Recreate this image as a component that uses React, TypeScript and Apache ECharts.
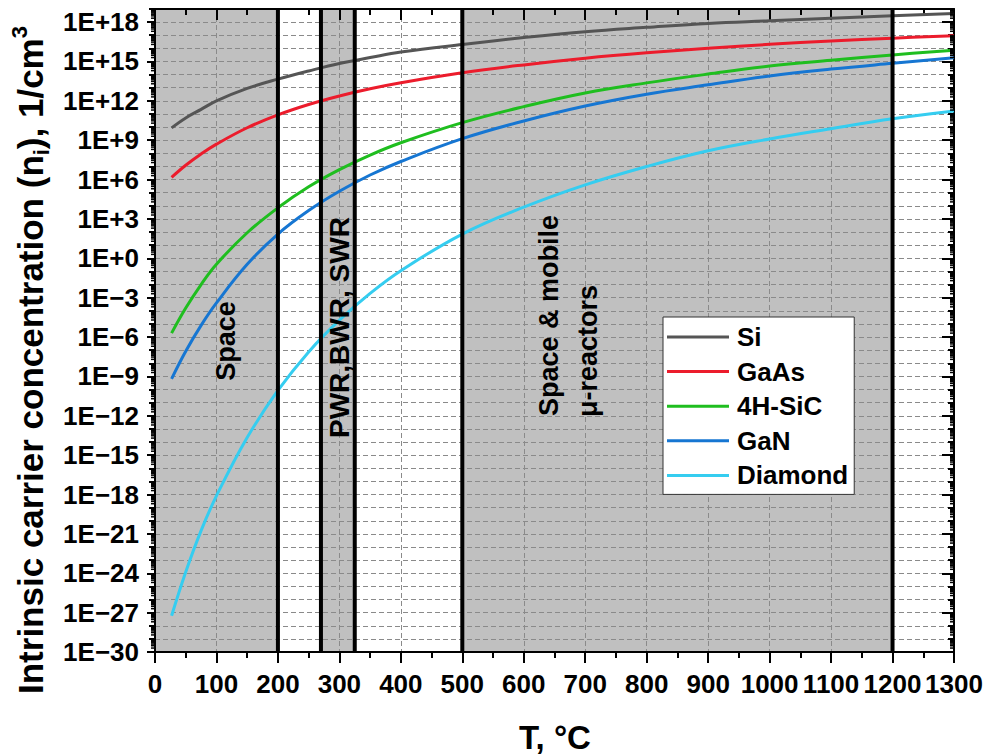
import React, { useEffect, useRef } from "react";
import * as echarts from "echarts";

// Temperature grid, °C
const temperatures = [27, 50, 75, 100, 150, 200, 250, 300, 350, 400, 500, 600, 700, 800, 900, 1000, 1100, 1200, 1300];

// log10 of the intrinsic carrier concentration n_i (1/cm^3) at each temperature
const siLog = [9.94, 10.7, 11.35, 12.0, 12.95, 13.66, 14.28, 14.85, 15.3, 15.72, 16.3, 16.82, 17.27, 17.6, 17.9, 18.1, 18.3, 18.49, 18.66];
const gaasLog = [6.17, 7.09, 7.95, 8.7, 9.95, 10.93, 11.72, 12.37, 12.92, 13.38, 14.14, 14.74, 15.25, 15.66, 16.0, 16.31, 16.56, 16.78, 16.96];
const sicLog = [-5.7, -3.79, -2.0, -0.45, 1.95, 3.85, 5.45, 6.76, 7.87, 8.81, 10.34, 11.56, 12.6, 13.37, 14.04, 14.65, 15.09, 15.5, 15.85];
const ganLog = [-9.18, -7.08, -5.11, -3.4, -0.46, 1.85, 3.64, 5.11, 6.35, 7.38, 9.12, 10.47, 11.61, 12.51, 13.22, 13.9, 14.42, 14.86, 15.28];
const diamondLog = [-27.24, -23.9, -20.75, -18.1, -13.66, -10.07, -7.13, -4.71, -2.67, -0.94, 1.85, 3.9, 5.6, 7.0, 8.2, 9.1, 9.88, 10.63, 11.23];

const seriesNames = ["Si", "GaAs", "4H-SiC", "GaN", "Diamond"];
const seriesValues = [siLog, gaasLog, sicLog, ganLog, diamondLog];
const seriesColors = ["#555555", "#ec1c2c", "#1fbe1f", "#1676d2", "#35cdf0"];

// Operating-temperature bands (shaded) and their boundaries, °C
const shadedBands = [
  [0, 200],
  [270, 325],
  [500, 1200],
];
const boundaries = [200, 270, 325, 500, 1200];

const X_MIN = 0;
const X_MAX = 1300;
const Y_MIN = -30;
const Y_MAX = 19;

const FONT = "'Liberation Sans', Arial, sans-serif";

const expLabel = (v: number) =>
  v % 3 === 0 ? `1E${v >= 0 ? "+" : "\u2212"}${Math.abs(v)}` : "";

// log-spaced sub-decade tick positions (2..9 × 10^d)
const subDecadeTicks: number[][] = [];
for (let d = Y_MIN; d < Y_MAX; d++) {
  for (let k = 2; k <= 9; k++) {
    const v = d + Math.log10(k);
    if (v < Y_MAX) subDecadeTicks.push([0, v]);
  }
}

export default function App() {
  const ref = useRef<HTMLDivElement>(null);

  useEffect(() => {
    if (!ref.current) return;
    const chart = echarts.init(ref.current, undefined, { renderer: "svg" });

    const splitDash = { color: "#8a8a8a", width: 1, type: [5, 3] as any };

    const xBase = {
      type: "value",
      min: X_MIN,
      max: X_MAX,
      interval: 100,
      axisLine: { show: true, onZero: false, lineStyle: { color: "#000", width: 2 } },
      minorTick: { show: true, splitNumber: 2, length: 6, lineStyle: { color: "#000", width: 2 } },
      axisTick: { show: true, length: 11, lineStyle: { color: "#000", width: 2 } },
    };

    const yBase = {
      type: "value",
      min: Y_MIN,
      max: Y_MAX,
      axisLine: { show: false, onZero: false },
      axisLabel: { show: false },
      splitLine: { show: false },
    };

    const lineSeries = seriesNames.map((name, i) => ({
      name,
      type: "line",
      xAxisIndex: 0,
      yAxisIndex: 0,
      data: temperatures.map((t, j) => [t, seriesValues[i][j]]),
      smooth: 0.4,
      symbol: "none",
      showSymbol: false,
      lineStyle: { color: seriesColors[i], width: 3 },
      itemStyle: { color: seriesColors[i] },
      z: 4,
    }));

    const annotation = (text: string, x: number, y: number, align: string, fontSize: number) => ({
      type: "text",
      x,
      y,
      rotation: Math.PI / 2,
      z: 10,
      style: { text, align, verticalAlign: "middle", fill: "#000", fontSize, fontWeight: "bold", fontFamily: FONT },
    });

    const option: any = {
      animation: false,
      grid: { left: 155, top: 9, right: 33, bottom: 103, containLabel: false },
      xAxis: [
        {
          ...xBase,
          position: "bottom",
          axisLabel: {
            show: true,
            margin: 19,
            color: "#000",
            fontSize: 26,
            fontWeight: "bold",
            fontFamily: FONT,
            showMinLabel: true,
            showMaxLabel: true,
            formatter: (v: number) => String(v),
          },
          splitLine: { show: true, lineStyle: splitDash },
        },
        {
          ...xBase,
          position: "top",
          axisTick: { ...xBase.axisTick, inside: true },
          minorTick: { ...xBase.minorTick, inside: true } as any,
          axisLabel: { show: false },
          splitLine: { show: false },
        },
      ],
      yAxis: [
        {
          ...yBase,
          position: "left",
          interval: 3,
          axisLine: { show: true, onZero: false, lineStyle: { color: "#000", width: 2 } },
          axisTick: { show: true, length: 8, lineStyle: { color: "#000", width: 2 } },
          axisLabel: {
            show: true,
            margin: 16,
            color: "#000",
            fontSize: 26,
            fontWeight: "bold",
            fontFamily: FONT,
            formatter: expLabel,
            showMaxLabel: false,
          },
        },
        {
          ...yBase,
          position: "left",
          interval: 1,
          axisTick: { show: true, length: 6, lineStyle: { color: "#000", width: 2 } },
          splitLine: { show: true, lineStyle: splitDash },
        },
        {
          ...yBase,
          position: "right",
          interval: 3,
          axisLine: { show: true, onZero: false, lineStyle: { color: "#000", width: 2 } },
          axisTick: { show: true, inside: true, length: 12, lineStyle: { color: "#000", width: 2 } },
        },
        {
          ...yBase,
          position: "right",
          interval: 1,
          axisTick: { show: true, inside: true, length: 6, lineStyle: { color: "#000", width: 2 } },
        },
      ],
      legend: {
        data: seriesNames,
        orient: "vertical",
        left: 663,
        top: 317,
        icon: "rect",
        backgroundColor: "#fff",
        borderColor: "#333",
        borderWidth: 1,
        borderRadius: 0,
        padding: [6, 6, 5, 4],
        itemWidth: 62,
        itemHeight: 3,
        itemGap: 6.6,
        textStyle: {
          color: "#000",
          fontSize: 26,
          fontWeight: "bold",
          fontFamily: FONT,
          lineHeight: 28,
          padding: [0, 0, 0, 3],
        },
      },
      graphic: [
        {
          type: "text",
          x: 30,
          y: 360,
          rotation: Math.PI / 2,
          style: {
            text: "{a|Intrinsic carrier concentration (n}{s|i}{a|), 1/cm}{p|3}",
            align: "center",
            verticalAlign: "middle",
            fill: "#000",
            rich: {
              a: { fontSize: 35, fontWeight: "bold", fontFamily: FONT, lineHeight: 44, verticalAlign: "middle" },
              s: { fontSize: 22, fontWeight: "bold", fontFamily: FONT, lineHeight: 22, verticalAlign: "bottom" },
              p: { fontSize: 22, fontWeight: "bold", fontFamily: FONT, lineHeight: 22, verticalAlign: "top" },
            },
          },
        },
        {
          type: "text",
          x: 555,
          y: 737,
          style: {
            text: "T, \u00b0C",
            align: "center",
            verticalAlign: "middle",
            fill: "#000",
            fontSize: 33,
            fontWeight: "bold",
            fontFamily: FONT,
          },
        },
        annotation("Space", 226, 341, "center", 27),
        annotation("PWR,BWR, SWR", 339, 438, "left", 28),
        annotation("Space & mobile", 549, 416, "left", 27),
        annotation("\u03bc-reactors", 588, 417, "left", 27),
      ],
      series: [
        {
          name: "bands",
          type: "custom",
          xAxisIndex: 0,
          yAxisIndex: 0,
          silent: true,
          z: -1,
          data: shadedBands,
          renderItem: (_p: any, api: any) => {
            const a = api.coord([api.value(0), Y_MAX]);
            const b = api.coord([api.value(1), Y_MIN]);
            return {
              type: "rect",
              shape: { x: a[0], y: a[1], width: b[0] - a[0], height: b[1] - a[1] },
              style: { fill: "#c0c0c0" },
            };
          },
        },
        {
          name: "boundaries",
          type: "custom",
          xAxisIndex: 0,
          yAxisIndex: 0,
          silent: true,
          z: 5,
          data: boundaries.map((b) => [b, 0]),
          renderItem: (_p: any, api: any) => {
            const a = api.coord([api.value(0), Y_MAX]);
            const b = api.coord([api.value(0), Y_MIN]);
            return {
              type: "line",
              shape: { x1: a[0], y1: a[1], x2: b[0], y2: b[1] },
              style: { stroke: "#000", lineWidth: 4 },
            };
          },
        },
        {
          name: "subTicks",
          type: "custom",
          xAxisIndex: 0,
          yAxisIndex: 0,
          silent: true,
          clip: false,
          z: 6,
          data: subDecadeTicks,
          renderItem: (_p: any, api: any) => {
            const v = api.value(1);
            const l = api.coord([X_MIN, v]);
            const r = api.coord([X_MAX, v]);
            const st = { stroke: "#000", lineWidth: 1.5 };
            return {
              type: "group",
              children: [
                { type: "line", shape: { x1: l[0] - 4, y1: l[1], x2: l[0], y2: l[1] }, style: st },
                { type: "line", shape: { x1: r[0], y1: r[1], x2: r[0] - 4, y2: r[1] }, style: st },
              ],
            };
          },
        },
        ...lineSeries,
      ],
    };

    chart.setOption(option);
    return () => chart.dispose();
  }, []);

  return (
    <div
      ref={ref}
      style={{ position: "fixed", left: 0, top: 0, width: 987, height: 755, background: "#fff" }}
    />
  );
}
